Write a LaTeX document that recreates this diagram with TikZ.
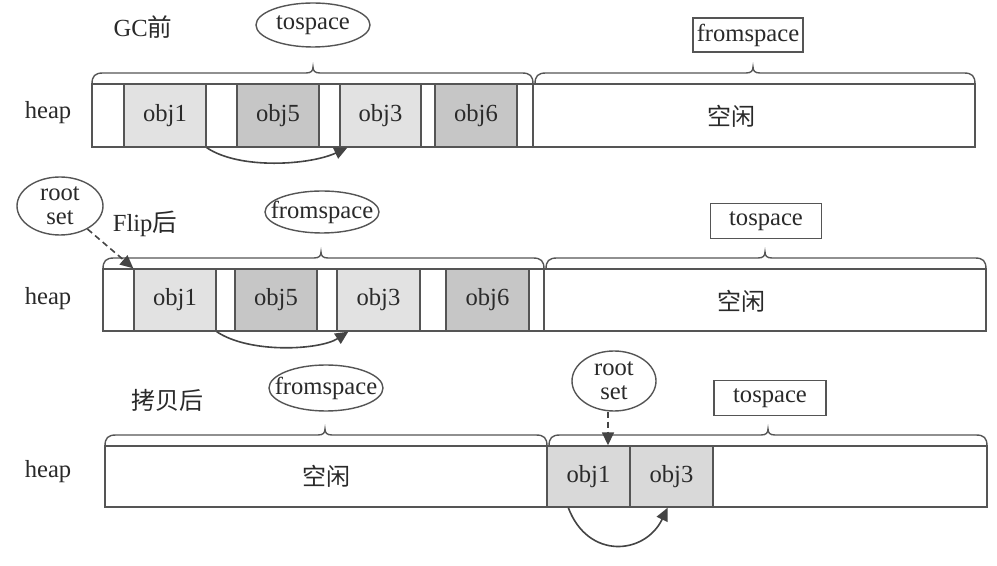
\documentclass[tikz,border=0pt]{standalone}
\usepackage{fontspec}
\setmainfont{Liberation Serif}
\newfontfamily\cjk{Noto Sans CJK SC}
\usetikzlibrary{shapes.geometric,arrows.meta}
\definecolor{ln}{HTML}{555555}
\definecolor{tx}{HTML}{2A2A2A}
\definecolor{objL}{HTML}{E2E2E2}
\definecolor{objD}{HTML}{C6C6C6}
\definecolor{objM}{HTML}{D9D9D9}
\tikzset{
  every node/.style={text=tx, font=\fontsize{12.3}{14}\selectfont},
  space/.style={draw=ln, line width=0.7pt, inner sep=0pt},
  objlight/.style={space, fill=objL},
  objdark/.style={space, fill=objD},
  objmid/.style={space, fill=objM},
  oval/.style={ellipse, draw=ln, line width=0.7pt, inner sep=0pt, align=center},
  tightoval/.style={oval, inner xsep=-6pt},
  tag/.style={rectangle, draw=ln, line width=0.7pt, inner sep=0pt},
  bracestyle/.style={draw=ln, line width=0.7pt},
  ptr/.style={draw=ln!80!black, line width=0.8pt, -{Triangle[length=6.5pt,width=6pt]}},
  dptr/.style={ptr, dashed, dash pattern=on 3pt off 2pt},
  cjktxt/.style={font=\cjk\fontsize{12}{14}\selectfont},
}
\newcommand\mybrace[4]{%
  \draw[bracestyle] (#1,#4) .. controls (#1,#4-8) and (#1+3,#4-11) .. (#1+11,#4-11)
    -- (#3-7,#4-11) .. controls (#3-2,#4-11) and (#3,#4-13) .. (#3,#4-17)
    .. controls (#3,#4-13) and (#3+2,#4-11) .. (#3+7,#4-11)
    -- (#2-11,#4-11) .. controls (#2-3,#4-11) and (#2,#4-8) .. (#2,#4);}
\begin{document}
\begin{tikzpicture}[x=0.5pt,y=-0.5pt]
\useasboundingbox (0,0) rectangle (997,566);
\fill[white] (0,0) rectangle (997,566);

% ---------- GC before ----------
\node (t1) at (143,27) {GC{\cjk 前}};
\node (h1) at (48,113) {heap};
\node[space, minimum width=220.5pt, minimum height=31.5pt] (l1) at (312.5,115.5) {};
\node[space, minimum width=221pt, minimum height=31.5pt] (r1) at (754,115.5) {};
\node[cjktxt] (k1) at (731,116) {空闲};
\node[objlight, minimum width=41pt, minimum height=31.5pt] (a1) at (165,115.5) {obj1};
\node[objdark,  minimum width=41pt, minimum height=31.5pt] (b1) at (278,115.5) {obj5};
\node[objlight, minimum width=40.5pt, minimum height=31.5pt] (c1) at (380.5,115.5) {obj3};
\node[objdark,  minimum width=41pt, minimum height=31.5pt] (d1) at (476,115.5) {obj6};
\mybrace{92}{533}{313}{84}
\mybrace{535}{975}{753}{84}
\node[oval, minimum width=57pt, minimum height=22pt] (e1) at (313,25) {tospace};
\node[tag, minimum width=55pt, minimum height=17pt] (f1) at (748,35) {fromspace};
\draw[ptr] (a1.south east) .. controls (240,170) and (310,165) .. ([xshift=4pt]c1.south west);

% ---------- after flip ----------
\node[oval, minimum width=43pt, minimum height=29pt] (rs2) at (60,206) {root\\[-2pt]set};
\node (t2) at (145,224) {Flip{\cjk 后}};
\node (h2) at (48,299) {heap};
\node[space, minimum width=220.5pt, minimum height=31pt] (l2) at (323.5,300) {};
\node[space, minimum width=221pt, minimum height=31pt] (r2) at (765,300) {};
\node[cjktxt] (k2) at (741,301) {空闲};
\node[objlight, minimum width=41pt, minimum height=31pt] (a2) at (175,300) {obj1};
\node[objdark,  minimum width=41pt, minimum height=31pt] (b2) at (276,300) {obj5};
\node[objlight, minimum width=41.5pt, minimum height=31pt] (c2) at (378.5,300) {obj3};
\node[objdark,  minimum width=41.5pt, minimum height=31pt] (d2) at (487.5,300) {obj6};
\mybrace{103}{544}{321}{269}
\mybrace{546}{986}{765}{269}
\node[tightoval, minimum width=57pt, minimum height=21pt] (e2) at (322,212) {fromspace};
\node[tag, minimum width=55.5pt, minimum height=17.5pt] (f2) at (766,221) {tospace};
\draw[dptr] (rs2.-40) -- (a2.north west);
\draw[ptr] (a2.south east) .. controls (250,354) and (320,350) .. ([xshift=6pt]c2.south west);

% ---------- after copy ----------
\node[cjktxt] (t3) at (167,400) {拷贝后};
\node (h3) at (48,472) {heap};
\node[space, minimum width=221pt, minimum height=30.5pt, cjktxt] (l3) at (326,476.5) {空闲};
\node[space, minimum width=220pt, minimum height=30.5pt] (r3) at (767,476.5) {};
\node[objmid, minimum width=41.5pt, minimum height=30.5pt] (a3) at (588.5,476.5) {obj1};
\node[objmid, minimum width=41.5pt, minimum height=30.5pt] (c3) at (671.5,476.5) {obj3};
\mybrace{105}{547}{325}{446}
\mybrace{549}{987}{768}{446}
\node[tightoval, minimum width=57pt, minimum height=23pt] (e3) at (326,388) {fromspace};
\node[oval, minimum width=42pt, minimum height=30pt] (rs3) at (614,381) {root\\[-2pt]set};
\node[tag, minimum width=56pt, minimum height=17.5pt] (f3) at (770,398) {tospace};
\draw[dptr] ([xshift=-3pt]rs3.south) -- ([xshift=-3pt]rs3.south |- a3.north);
\draw[ptr] ([xshift=11pt]a3.south west) .. controls (588,560) and (645,555) .. ([xshift=-23pt]c3.south east);
\end{tikzpicture}
\end{document}
